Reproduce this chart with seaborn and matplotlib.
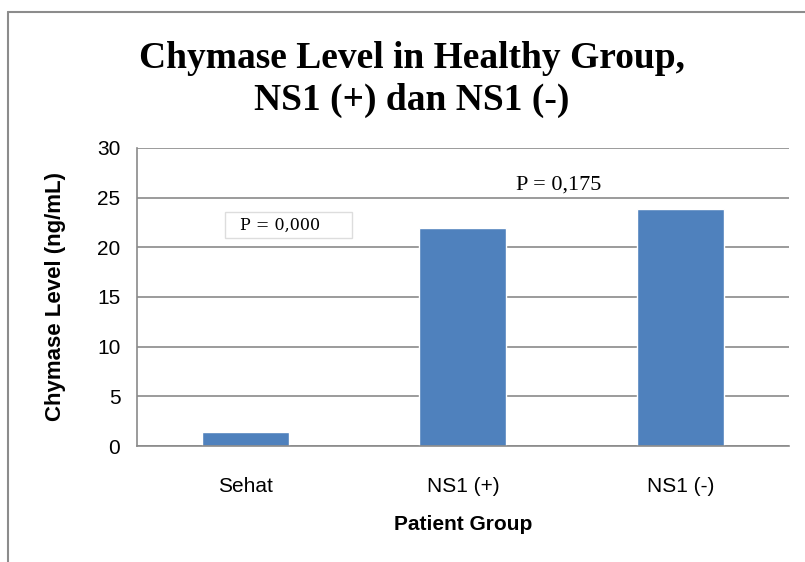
import matplotlib
matplotlib.use('Agg')
import matplotlib.pyplot as plt
import seaborn as sns
import pandas as pd
from matplotlib.lines import Line2D
from matplotlib.patches import Rectangle

# data
groups = ['Sehat', 'NS1 (+)', 'NS1 (-)']
chymase = [1.4, 21.9, 23.9]
p_labels = ['P = 0,000', 'P = 0,175']

df = pd.DataFrame({'group': groups, 'level': chymase})

sns.set_style('white')
plt.rcParams['font.family'] = ['Liberation Sans', 'DejaVu Sans']
plt.rcParams['text.color'] = 'black'

fig = plt.figure(figsize=(8.05, 5.62), dpi=100)
ax = fig.add_axes([0.1702, 0.2064, 0.8098, 0.5303])

sns.barplot(data=df, x='group', y='level', color='#4F81BD', width=0.4,
            saturation=1, ax=ax)

ax.set_ylim(0, 30)
ax.set_xlim(-0.5, 2.5)
ax.set_yticks(range(0, 31, 5))
ax.yaxis.grid(True, color='#8a8a8a', linewidth=1.2)
ax.set_axisbelow(True)

for s in ['top', 'right']:
    ax.spines[s].set_visible(False)
for s in ['left', 'bottom']:
    ax.spines[s].set_color('#8a8a8a')
    ax.spines[s].set_linewidth(1.2)

# tick marks between categories, like the original
ax.set_xticks([-0.5, 0.5, 1.5, 2.5], minor=True)
ax.tick_params(axis='x', which='major', length=0, labelsize=15, pad=22,
               labelcolor='black')
ax.tick_params(axis='x', which='minor', length=7, color='#8a8a8a', width=1.2)
ax.tick_params(axis='y', length=6, color='#8a8a8a', width=1.2, labelsize=15,
               pad=6, labelcolor='black')

ax.set_xlabel('Patient Group', fontsize=15, fontweight='bold', labelpad=14,
              color='black')
ax.set_ylabel('Chymase Level (ng/mL)', fontsize=16, fontweight='bold',
              labelpad=22, color='black')

fig.text(0.512, 0.858, 'Chymase Level in Healthy Group,\nNS1 (+) dan NS1 (-)',
         ha='center', va='center', fontsize=27, fontweight='bold',
         family='Liberation Serif', linespacing=1.25, color='black')

# small text box with the first p value
ax.add_patch(Rectangle((0.135, 0.698), 0.195, 0.087, transform=ax.transAxes,
                       facecolor='white', edgecolor='#dddddd', linewidth=1,
                       zorder=5))
ax.text(0.158, 0.742, p_labels[0], transform=ax.transAxes, fontsize=11.5,
        family='DejaVu Serif', va='center', ha='left', zorder=6)
ax.text(1.44, 26.3, p_labels[1], fontsize=16, family='Liberation Serif',
        va='center', ha='center')

# outer frame of the chart area
x0 = 8 / 805
top = 1 - 12 / 562
fig.add_artist(Line2D([x0, x0], [0, top], color='#8c8c8c', linewidth=1.5))
fig.add_artist(Line2D([x0, 1], [top, top], color='#8c8c8c', linewidth=1.5))

fig.savefig('out.png', dpi=100)
